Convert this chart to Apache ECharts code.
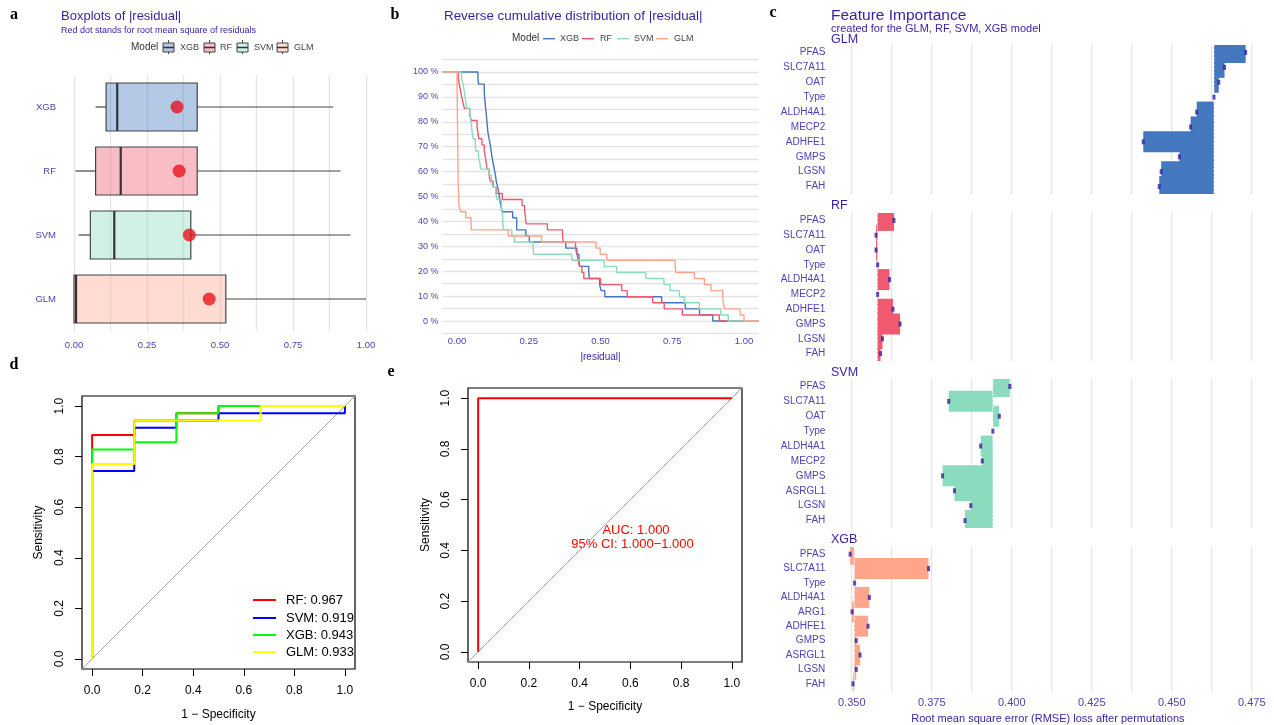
<!DOCTYPE html>
<html><head><meta charset="utf-8">
<script src="https://cdn.jsdelivr.net/npm/echarts@6/dist/echarts.min.js"></script>
<style>html,body{margin:0;padding:0;background:#fff}#c{width:1274px;height:725px}</style>
</head><body><div id="c"></div><script>
// ---------- Panel a: boxplots of |residual| ----------
const models = ['XGB', 'RF', 'SVM', 'GLM'];
const boxMin = [0.074, 0.005, 0.016, 0.000];
const boxQ1  = [0.110, 0.074, 0.056, 0.000];
const boxMed = [0.148, 0.160, 0.138, 0.007];
const boxQ3  = [0.422, 0.422, 0.400, 0.520];
const boxMax = [0.888, 0.913, 0.947, 1.000];
const rmse   = [0.353, 0.360, 0.395, 0.463];

// ---------- Panel b: |residual| per observation ----------
const absResXGB = [0.073,0.075,0.095,0.096,0.098,0.100,0.102,0.104,0.106,0.108,0.112,0.116,0.119,0.122,0.126,0.130,0.134,0.137,0.142,0.146,0.149,0.153,0.157,0.194,0.208,0.208,0.240,0.252,0.379,0.418,0.425,0.427,0.459,0.461,0.497,0.502,0.515,0.713,0.795,0.845,0.891];
const absResRF  = [0.005,0.008,0.012,0.016,0.021,0.026,0.044,0.050,0.070,0.073,0.076,0.087,0.095,0.099,0.102,0.105,0.112,0.116,0.126,0.137,0.158,0.227,0.236,0.239,0.241,0.315,0.368,0.370,0.413,0.418,0.422,0.428,0.435,0.442,0.500,0.574,0.593,0.682,0.722,0.785,0.914];
const absResSVM = [0.016,0.021,0.025,0.028,0.031,0.035,0.045,0.048,0.051,0.053,0.056,0.064,0.066,0.075,0.080,0.082,0.112,0.120,0.125,0.135,0.140,0.155,0.157,0.159,0.160,0.162,0.191,0.201,0.265,0.267,0.400,0.513,0.556,0.658,0.721,0.742,0.775,0.792,0.844,0.919,0.945];
const absResGLM = [0.000,0.000,0.001,0.001,0.001,0.002,0.002,0.002,0.002,0.003,0.003,0.003,0.003,0.004,0.004,0.004,0.004,0.004,0.006,0.006,0.007,0.007,0.013,0.031,0.049,0.050,0.179,0.295,0.484,0.499,0.522,0.760,0.762,0.827,0.862,0.885,0.926,0.928,0.932,0.986,1.000];
const cdfTicks = [0, 0.25, 0.5, 0.75, 1];

// ---------- Panel c: permutation feature importance ----------
const featGLM = ['PFAS','SLC7A11','OAT','Type','ALDH4A1','MECP2','ADHFE1','GMPS','LGSN','FAH'];
const lossGLM = [0.4731,0.4665,0.4647,0.4632,0.4578,0.4559,0.4411,0.4524,0.4467,0.4461];
const baseGLM = 0.4632;
const featRF  = ['PFAS','SLC7A11','OAT','Type','ALDH4A1','MECP2','ADHFE1','GMPS','LGSN','FAH'];
const lossRF  = [0.3632,0.3576,0.3576,0.3581,0.3618,0.3581,0.3629,0.3651,0.3596,0.3590];
const baseRF  = 0.3580;
const featSVM = ['PFAS','SLC7A11','OAT','Type','ALDH4A1','MECP2','GMPS','ASRGL1','LGSN','FAH'];
const lossSVM = [0.3994,0.3803,0.3961,0.3941,0.3903,0.3908,0.3784,0.3821,0.3872,0.3854];
const baseSVM = 0.3941;
const featXGB = ['PFAS','SLC7A11','Type','ALDH4A1','ARG1','ADHFE1','GMPS','ASRGL1','LGSN','FAH'];
const lossXGB = [0.3495,0.3740,0.3509,0.3555,0.3501,0.3551,0.3514,0.3526,0.3514,0.3504];
const baseXGB = 0.3508;
const fiGridTicks = [0.35,0.3625,0.375,0.3875,0.4,0.4125,0.425,0.4375,0.45,0.4625,0.475];
const fiLabelTicks = [0.35,0.375,0.4,0.425,0.45,0.475];

// ---------- Panel d: ROC curves (1 - specificity, sensitivity) ----------
const rocRF_x  = [0,0,1/6,1/6,2/6,2/6,3/6,3/6,1];
const rocRF_y  = [0,31/35,31/35,33/35,33/35,34/35,34/35,1,1];
const rocSVM_x = [0,0,1/6,1/6,2/6,2/6,3/6,3/6,1,1];
const rocSVM_y = [0,26/35,26/35,32/35,32/35,33/35,33/35,34/35,34/35,1];
const rocXGB_x = [0,0,1/6,1/6,2/6,2/6,3/6,3/6,1];
const rocXGB_y = [0,29/35,29/35,30/35,30/35,34/35,34/35,1,1];
const rocGLM_x = [0,0,1/6,1/6,4/6,4/6,1];
const rocGLM_y = [0,27/35,27/35,33/35,33/35,1,1];
const aucLabels = ['RF: 0.967','SVM: 0.919','XGB: 0.943','GLM: 0.933'];
// ---------- Panel e ----------
const rocE_x = [0,0,1];
const rocE_y = [0,1,1];
const rocTicks = [0,0.2,0.4,0.6,0.8,1];

const PURPLE = '#371ea3';
const LAB = '#4f42b5';
const FONT = 'Liberation Sans, Arial, sans-serif';
const boxFill = ['rgba(67,120,191,0.4)','rgba(240,90,113,0.4)','rgba(139,220,190,0.4)','rgba(255,165,140,0.4)'];
const lineCol = ['#4378bf','#f05a71','#8bdcbe','#ffa58c'];
const rocCol = ['#ff0000','#0000ff','#00ff00','#ffff00'];

function zip(a,b){ return a.map((v,i)=>[v,b[i]]); }
function revEcdf(vals){
  const s = vals.slice().sort((a,b)=>a-b), n = s.length;
  const pts = [[-0.05,100]];
  for (let i=0;i<n;i++){ if (i<n-1 && s[i+1]===s[i]) continue; pts.push([s[i],(n-1-i)/n*100]); }
  pts.push([1.05,0]);
  return pts;
}
const isQ = v => Math.abs(v*4-Math.round(v*4))<1e-9 && v>-1e-9 && v<1+1e-9;

const grids = [
  {left:74, top:75, width:292, height:256},
  {left:442.6, top:59.5, width:315.8, height:274},
  {left:830.3, top:45, width:435.2, height:149},
  {left:830.3, top:213, width:435.2, height:148},
  {left:830.3, top:379, width:435.2, height:149},
  {left:830.3, top:547, width:435.2, height:148},
  {left:82, top:396, width:273, height:273, show:true, borderColor:'#000', borderWidth:1.2, backgroundColor:'transparent'},
  {left:468, top:388, width:274, height:274, show:true, borderColor:'#000', borderWidth:1.2, backgroundColor:'transparent'}
];

const xAxes = [], yAxes = [], series = [];
// panel a axes
xAxes.push({gridIndex:0, type:'value', min:0, max:1, interval:0.125,
  axisLine:{show:false}, axisTick:{show:false},
  splitLine:{show:true, lineStyle:{color:'#e4e4e4', width:1.3}},
  axisLabel:{margin:9, fontSize:9.5, color:LAB, fontFamily:FONT, formatter:v=>isQ(v)?v.toFixed(2):''}});
yAxes.push({gridIndex:0, type:'category', data:models, inverse:true,
  axisLine:{show:false}, axisTick:{show:false}, splitLine:{show:false},
  axisLabel:{margin:18, fontSize:9.5, color:LAB, fontFamily:FONT}});
// panel b axes
xAxes.push({gridIndex:1, type:'value', min:-0.05, max:1.05,
  axisLine:{show:false, onZero:false}, axisTick:{show:false, customValues:cdfTicks}, splitLine:{show:false},
  axisLabel:{margin:3, fontSize:9.5, color:LAB, fontFamily:FONT, customValues:cdfTicks, formatter:v=>v.toFixed(2)},
  name:'|residual|', nameLocation:'middle', nameGap:19, nameTextStyle:{color:PURPLE, fontSize:10, fontFamily:FONT}});
yAxes.push({gridIndex:1, type:'value', min:-5, max:105, interval:5,
  axisLine:{show:false, onZero:false}, axisTick:{show:false},
  splitLine:{show:true, lineStyle:{color:'#e4e4e4', width:1.3}},
  axisLabel:{margin:4, fontSize:9, color:LAB, fontFamily:FONT,
    formatter:v=>(v>=0 && v<=100 && Math.round(v)%10===0)?Math.round(v)+' %':''}});
// panel c axes
const fiSets = [
  {feat:featGLM, loss:lossGLM, base:baseGLM, col:'#4378bf'},
  {feat:featRF, loss:lossRF, base:baseRF, col:'#f05a71'},
  {feat:featSVM, loss:lossSVM, base:baseSVM, col:'#8bdcbe'},
  {feat:featXGB, loss:lossXGB, base:baseXGB, col:'#ffa58c'}
];
fiSets.forEach((s,k)=>{
  const g = 2+k;
  const last = k===3;
  xAxes.push({gridIndex:g, type:'value', min:0.3433, max:0.4793,
    axisLine:{show:false}, axisTick:{show:false, customValues:fiGridTicks},
    splitLine:{show:true, lineStyle:{color:'#e4e4e4', width:1.3}},
    axisLabel:{show:last, margin:6, fontSize:11, color:LAB, fontFamily:FONT, customValues:fiLabelTicks, formatter:v=>v.toFixed(3)},
    name: last ? 'Root mean square error (RMSE) loss after permutations' : '',
    nameLocation:'middle', nameGap:22, nameTextStyle:{color:PURPLE, fontSize:11, fontFamily:FONT}});
  yAxes.push({gridIndex:g, type:'category', data:s.feat, inverse:true,
    axisLine:{show:false}, axisTick:{show:false}, splitLine:{show:false},
    axisLabel:{margin:5, fontSize:10, color:LAB, fontFamily:FONT}});
  series.push({type:'custom', xAxisIndex:g, yAxisIndex:g, clip:true, silent:true,
    data:s.loss.map((v,i)=>[i, v, s.base]),
    encode:{y:0, x:[1,2]},
    renderItem:(params, api)=>{
      const c = api.value(0);
      const p1 = api.coord([api.value(2), c]);
      const p2 = api.coord([api.value(1), c]);
      const h = 21;
      return {type:'rect', shape:{x:Math.min(p1[0],p2[0]), y:p1[1]-h/2, width:Math.abs(p2[0]-p1[0]), height:h},
        style:{fill:s.col}};
    }
  });
  // dashed baseline (full-model RMSE), drawn per row on top of the bars
  series.push({type:'custom', xAxisIndex:g, yAxisIndex:g, clip:true, silent:true, z:3,
    data:s.loss.map((v,i)=>[i, s.base]),
    encode:{y:0, x:1},
    renderItem:(params, api)=>{
      const c = api.value(0);
      const p = api.coord([api.value(1), c]);
      const bh = api.size([0,1])[1];
      return {type:'line', shape:{x1:p[0], y1:p[1]-bh/2, x2:p[0], y2:p[1]+bh/2},
        style:{stroke:'rgba(255,255,255,0.75)', lineWidth:1, lineDash:[2,2]}};
    }
  });
  series.push({type:'scatter', xAxisIndex:g, yAxisIndex:g, silent:true, z:4,
    symbol:'rect', symbolSize:[3,5], itemStyle:{color:PURPLE},
    data:s.loss.map((v,i)=>[v,i])});
});
// panel d/e axes
[[6,37,40],[7,36,39]].forEach(([g,gy,gx])=>{
  xAxes.push({gridIndex:g, type:'value', min:-0.04, max:1.04, position:'bottom',
    axisLine:{show:false, onZero:false}, splitLine:{show:false},
    axisTick:{show:true, inside:false, length:7, customValues:rocTicks, lineStyle:{color:'#000', width:1}},
    axisLabel:{margin:16, fontSize:12, color:'#000', fontFamily:FONT, customValues:rocTicks, formatter:v=>v.toFixed(1)},
    name:'1 − Specificity', nameLocation:'middle', nameGap:gx, nameTextStyle:{color:'#000', fontSize:12, fontFamily:FONT}});
  yAxes.push({gridIndex:g, type:'value', min:-0.04, max:1.04, position:'left',
    axisLine:{show:false, onZero:false}, splitLine:{show:false},
    axisTick:{show:true, inside:false, length:7, customValues:rocTicks, lineStyle:{color:'#000', width:1}},
    axisLabel:{margin:16, fontSize:12, color:'#000', fontFamily:FONT, rotate:90, customValues:rocTicks, formatter:v=>v.toFixed(1)},
    name:'Sensitivity', nameLocation:'middle', nameGap:gy, nameRotate:90, nameTextStyle:{color:'#000', fontSize:12, fontFamily:FONT}});
});

// panel a series
series.push({type:'custom', xAxisIndex:0, yAxisIndex:0, silent:true,
  data: models.map((m,i)=>[i, boxMin[i], boxQ1[i], boxMed[i], boxQ3[i], boxMax[i]]),
  encode:{y:0, x:[1,2,3,4,5]},
  renderItem:(params, api)=>{
    const c = api.value(0);
    const P = v=>api.coord([v, c]);
    const pMin=P(api.value(1)), pQ1=P(api.value(2)), pMed=P(api.value(3)), pQ3=P(api.value(4)), pMax=P(api.value(5));
    const h = 48, y = pMed[1];
    const st = {stroke:'#444', lineWidth:1.2};
    return {type:'group', children:[
      {type:'line', shape:{x1:pMin[0], y1:y, x2:pQ1[0], y2:y}, style:st},
      {type:'line', shape:{x1:pQ3[0], y1:y, x2:pMax[0], y2:y}, style:st},
      {type:'rect', shape:{x:pQ1[0], y:y-h/2, width:pQ3[0]-pQ1[0], height:h}, style:{fill:boxFill[c], stroke:'#444', lineWidth:1.2}},
      {type:'line', shape:{x1:pMed[0], y1:y-h/2, x2:pMed[0], y2:y+h/2}, style:{stroke:'#333', lineWidth:2.2}}
    ]};
  }});
series.push({type:'scatter', xAxisIndex:0, yAxisIndex:0, silent:true, symbolSize:13,
  itemStyle:{color:'#e8141e'}, data: models.map((m,i)=>[rmse[i], i])});

// panel b series
[absResXGB, absResRF, absResSVM, absResGLM].forEach((r,i)=>{
  series.push({type:'line', xAxisIndex:1, yAxisIndex:1, step:'end', showSymbol:false, symbol:'none', silent:true,
    lineStyle:{color:lineCol[i], width:1.4}, data:revEcdf(r)});
});

// panel d series
series.push({type:'line', xAxisIndex:6, yAxisIndex:6, symbol:'none', silent:true,
  lineStyle:{color:'#a8a8a8', width:1}, data:[[-0.04,-0.04],[1.04,1.04]]});
[[rocRF_x,rocRF_y],[rocSVM_x,rocSVM_y],[rocXGB_x,rocXGB_y],[rocGLM_x,rocGLM_y]].forEach((r,i)=>{
  series.push({type:'line', xAxisIndex:6, yAxisIndex:6, symbol:'none', silent:true,
    lineStyle:{color:rocCol[i], width:2}, data:zip(r[0], r[1])});
});
// panel e series
series.push({type:'line', xAxisIndex:7, yAxisIndex:7, symbol:'none', silent:true,
  lineStyle:{color:'#a8a8a8', width:1}, data:[[-0.04,-0.04],[1.04,1.04]]});
series.push({type:'line', xAxisIndex:7, yAxisIndex:7, symbol:'none', silent:true,
  lineStyle:{color:'#ff0000', width:2}, data:zip(rocE_x, rocE_y)});

// graphic: titles, panel letters, legends
const G = [];
const txt = (x,y,t,o)=>G.push(Object.assign({type:'text', x, y, style:Object.assign({text:t, fontFamily:FONT, fontSize:12, fill:'#000', verticalAlign:'middle', align:'left'}, o||{})}));
[['a',14,15],['b',395,15],['c',773,13],['d',14,365],['e',391,372]].forEach(p=>
  txt(p[1],p[2],p[0],{fontFamily:'Liberation Serif, Times New Roman, serif', fontWeight:'bold', fontSize:16, align:'center'}));
txt(61,16,'Boxplots of |residual|',{fontSize:13,fill:PURPLE});
txt(61,31,'Red dot stands for root mean square of residuals',{fontSize:9,fill:PURPLE});
txt(131,47,'Model',{fontSize:10,fill:'#333'});
const legA = [[163,180],[204,220],[237,254],[277,294]];
legA.forEach((p,i)=>{
  G.push({type:'line', shape:{x1:p[0]+5.5,y1:40,x2:p[0]+5.5,y2:54}, style:{stroke:'#444', lineWidth:1}});
  G.push({type:'rect', shape:{x:p[0],y:43,width:11,height:9}, style:{fill:'#fff', stroke:'none'}});
  G.push({type:'rect', shape:{x:p[0],y:43,width:11,height:9}, style:{fill:boxFill[i], stroke:'#444', lineWidth:1}});
  G.push({type:'line', shape:{x1:p[0],y1:47.5,x2:p[0]+11,y2:47.5}, style:{stroke:'#333', lineWidth:1.5}});
  txt(p[1],47.5,models[i],{fontSize:9,fill:'#444'});
});
txt(444,16,'Reverse cumulative distribution of |residual|',{fontSize:13.4,fill:PURPLE});
txt(512,38.7,'Model',{fontSize:10,fill:'#333'});
const legB = [[543,560],[582,600],[617,634],[656,674]];
legB.forEach((p,i)=>{
  G.push({type:'line', shape:{x1:p[0],y1:38.7,x2:p[0]+12,y2:38.7}, style:{stroke:lineCol[i], lineWidth:1.4}});
  txt(p[1],38.7,models[i],{fontSize:9,fill:'#444'});
});
txt(831,16,'Feature Importance',{fontSize:15.5,fill:PURPLE});
txt(831,28.5,'created for the GLM, RF, SVM, XGB model',{fontSize:11,fill:PURPLE});
[['GLM',39.5],['RF',206],['SVM',373],['XGB',540]].forEach(p=>txt(831,p[1],p[0],{fontSize:12.5,fill:PURPLE}));
// panel d legend
[600,618,635,652].forEach((y,i)=>{
  G.push({type:'line', shape:{x1:253,y1:y,x2:276,y2:y}, style:{stroke:rocCol[i], lineWidth:2}});
  txt(286,y,aucLabels[i],{fontSize:13});
});
// panel e text
txt(636,530,'AUC: 1.000',{fontSize:13,fill:'#ff0000',align:'center'});
txt(632.5,544,'95% CI: 1.000−1.000',{fontSize:13,fill:'#ff0000',align:'center'});

const chart = echarts.init(document.getElementById('c'));
chart.setOption({
  animation:false,
  backgroundColor:'#fff',
  textStyle:{fontFamily:FONT},
  grid:grids, xAxis:xAxes, yAxis:yAxes, series:series,
  graphic:{elements:G}
});
</script></body></html>
